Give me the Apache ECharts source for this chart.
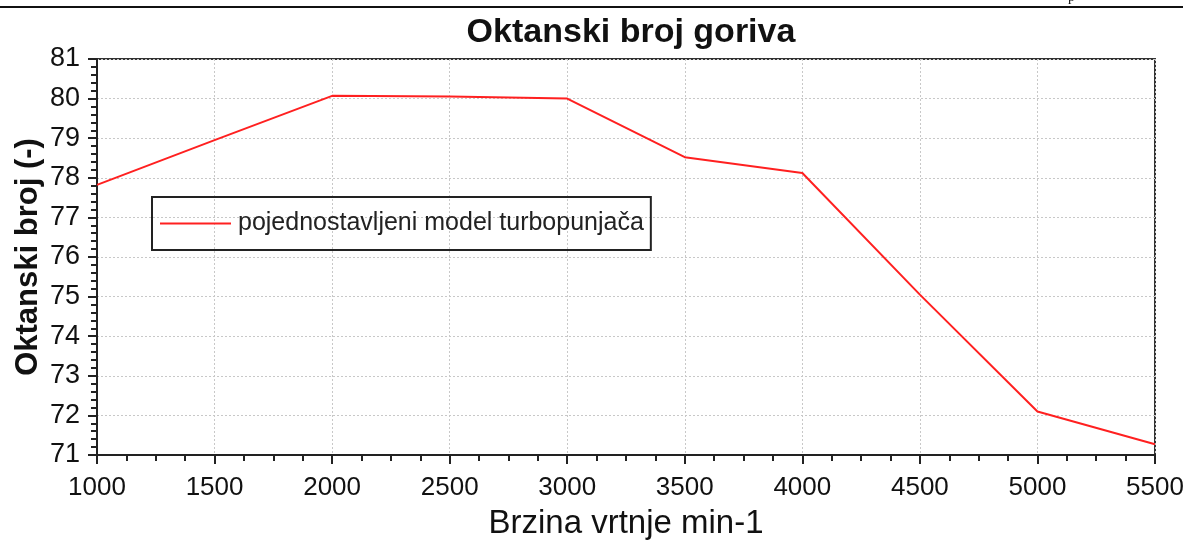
<!DOCTYPE html>
<html>
<head>
<meta charset="utf-8">
<script src="https://cdn.jsdelivr.net/npm/echarts@6/dist/echarts.min.js"></script>
<style>html,body{margin:0;padding:0;background:#fff}#c{width:1190px;height:540px}</style>
</head>
<body>
<div id="c"></div>
<script>
const title = "Oktanski broj goriva";
const xName = "Brzina vrtnje min-1";
const yName = "Oktanski broj (-)";
const seriesName = "pojednostavljeni model turbopunjača";
const rpm = [1000, 1500, 2000, 2500, 3000, 3500, 4000, 4500, 5000, 5500];
const octane = [77.82, 78.95, 80.07, 80.05, 80.0, 78.52, 78.12, 75.05, 72.1, 71.27];

const font = "'Liberation Sans', Arial, sans-serif";
const chart = echarts.init(document.getElementById('c'));
chart.setOption({
  animation: false,
  backgroundColor: '#fff',
  textStyle: { fontFamily: font },
  title: {
    text: title, left: 626, top: 11, textAlign: 'center',
    textStyle: { fontFamily: font, fontSize: 34, fontWeight: 'bold', color: '#111' }
  },
  graphic: [
    { type: 'line', shape: { x1: 0, y1: 7, x2: 1183, y2: 7 }, style: { stroke: '#111', lineWidth: 2 } },
    { type: 'text', left: 1068, top: -10, style: { text: 'p', font: '14px serif', fill: '#111' } }
  ],
  grid: { left: 97, right: 35, top: 59, bottom: 85, show: true, borderColor: '#333', borderWidth: 2, backgroundColor: 'transparent', containLabel: false, outerBoundsMode: 'none' },
  legend: {
    left: 152, top: 197,
    orient: 'horizontal',
    padding: [14, 7, 14, 8],
    borderColor: '#222', borderWidth: 2,
    itemWidth: 71, itemHeight: 14, itemGap: 10,
    icon: 'path://M0,6 L70,6 L70,8 L0,8 Z',
    textStyle: { fontFamily: font, fontSize: 25, color: '#222', padding: [0, 0, 0, 2] },
    data: [{ name: seriesName, itemStyle: { color: '#ff2020' } }]
  },
  xAxis: {
    type: 'value', min: 1000, max: 5500, interval: 500,
    name: xName, nameLocation: 'middle', nameGap: 52, nameMoveOverlap: false,
    nameTextStyle: { fontFamily: font, fontSize: 33, color: '#111' },
    axisLine: { show: true, lineStyle: { color: '#222', width: 2 } },
    axisTick: { show: true, length: 9, lineStyle: { color: '#222', width: 2 } },
    minorTick: { show: true, splitNumber: 4, length: 6, lineStyle: { color: '#222', width: 2 } },
    axisLabel: { fontFamily: font, fontSize: 26, color: '#111', margin: 20, formatter: v => String(v) },
    splitLine: { show: true, lineStyle: { color: '#c8c8c8', type: [2, 2], width: 1 } }
  },
  yAxis: {
    type: 'value', min: 71, max: 81, interval: 1,
    name: yName, nameLocation: 'middle', nameGap: 53, nameMoveOverlap: false,
    nameTextStyle: { fontFamily: font, fontSize: 31, fontWeight: 'bold', color: '#111' },
    axisLine: { show: true, lineStyle: { color: '#222', width: 2 } },
    axisTick: { show: true, length: 9, lineStyle: { color: '#222', width: 2 } },
    minorTick: { show: true, splitNumber: 5, length: 6, lineStyle: { color: '#222', width: 2 } },
    axisLabel: { fontFamily: font, fontSize: 27, color: '#111', margin: 17, formatter: v => String(v) },
    splitLine: { show: true, lineStyle: { color: '#c8c8c8', type: [2, 2], width: 1 } }
  },
  series: [{
    name: seriesName, type: 'line',
    data: rpm.map((x, i) => [x, octane[i]]),
    showSymbol: false, symbol: 'none',
    lineStyle: { color: '#ff2020', width: 2 },
    itemStyle: { color: '#ff2020' }
  }]
});
</script>
</body>
</html>
